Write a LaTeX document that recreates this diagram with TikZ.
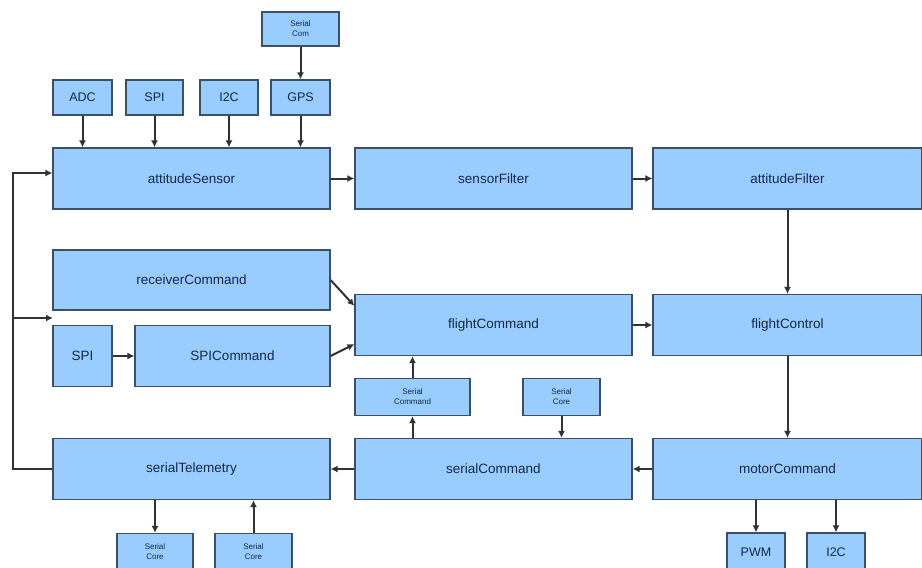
\documentclass[tikz,border=0pt]{standalone}
\usepackage{fontspec}
\setmainfont{Liberation Sans}
\usetikzlibrary{arrows.meta}
\definecolor{boxfill}{RGB}{153,204,255}
\definecolor{boxline}{RGB}{60,80,100}
\definecolor{labeltext}{RGB}{20,40,70}
\definecolor{wire}{RGB}{50,50,50}

\begin{document}
\begin{tikzpicture}[x=1pt,y=-1pt,
	every node/.style={draw=boxline,line width=1.2pt,fill=boxfill,text=labeltext,align=center,inner sep=0pt},
	bigbox/.style={minimum height=61pt,font=\fontsize{13.5}{15}\selectfont},
	portbox/.style={minimum height=35pt,font=\fontsize{12.5}{14}\selectfont},
	tinybox/.style={minimum height=37pt,font=\fontsize{8}{10}\selectfont},
	link/.style={draw=wire,line width=2pt,-{Latex[length=7pt,width=7pt]}}]
		\useasboundingbox (0,0) rectangle (922,568);

		% sensor row
		\path (191.5,178.5) node[bigbox,minimum width=277pt] (atts) {attitudeSensor}
		(493.5,178.5) node[bigbox,minimum width=277pt] (sfil) {sensorFilter}
		(787.5,178.5) node[bigbox,minimum width=269pt] (afil) {attitudeFilter}
		(82.5,97.5) node[portbox,minimum width=59pt] (adc) {ADC}
		(154.5,97.5) node[portbox,minimum width=57pt] (spia) {SPI}
		(229,97.5) node[portbox,minimum width=58pt] (i2ca) {I2C}
		(300.5,97.5) node[portbox,minimum width=59pt] (gps) {GPS}
		(300.5,29) node[tinybox,minimum width=77pt,minimum height=34pt] (scom) {Serial\\Com};

		% command row
		\path (191.5,280) node[bigbox,minimum width=277pt,minimum height=60pt] (rcv) {receiverCommand}
		(82.5,356) node[bigbox,minimum width=59pt] (spib) {SPI}
		(232.5,356) node[bigbox,minimum width=195pt] (spic) {SPICommand}
		(493.5,325) node[bigbox,minimum width=277pt] (fcmd) {flightCommand}
		(787.5,325) node[bigbox,minimum width=269pt] (fctl) {flightControl}
		(412.5,397) node[tinybox,minimum width=115pt] (sercmd) {Serial\\Command}
		(561.5,397) node[tinybox,minimum width=77pt] (score) {Serial\\Core};

		% output row
		\path (191.5,469) node[bigbox,minimum width=277pt] (stel) {serialTelemetry}
		(493.5,469) node[bigbox,minimum width=277pt] (scmd) {serialCommand}
		(787.5,469) node[bigbox,minimum width=269pt] (mcmd) {motorCommand}
		(155,552) node[tinybox,minimum width=76pt] (scoreout) {Serial\\Core}
		(253.5,552) node[tinybox,minimum width=77pt] (scorein) {Serial\\Core}
		(756,552) node[portbox,minimum width=58pt,minimum height=38pt] (pwm) {PWM}
		(836,552) node[portbox,minimum width=58pt,minimum height=38pt] (i2cb) {I2C};

		\coordinate (loopin) at (53,318);

		\draw[link] (adc) -- (adc |- atts.north);
		\draw[link] (spia) -- (spia |- atts.north);
		\draw[link] (i2ca) -- (i2ca |- atts.north);
		\draw[link] (gps) -- (gps |- atts.north);
		\draw[link] (scom) -- (gps);
		\draw[link] (atts) -- (sfil);
		\draw[link] (sfil) -- (afil);
		\draw[link] (afil) -- (fctl);
		\draw[link] (rcv.east) -- ([yshift=-12pt]fcmd.north west);
		\draw[link] (spic.east) -- ([yshift=12pt]fcmd.south west);
		\draw[link] (spib) -- (spic);
		\draw[link] (fcmd) -- (fctl);
		\draw[link] (fctl) -- (mcmd);
		\draw[link] (mcmd) -- (scmd);
		\draw[link] (scmd) -- (stel);
		\draw[link] (sercmd.north) -- (sercmd.north |- fcmd.south);
		\draw[link] (sercmd.south |- scmd.north) -- (sercmd.south);
		\draw[link] (score) -- (score |- scmd.north);
		\draw[link] (stel.south -| scoreout) -- (scoreout);
		\draw[link] (scorein) -- (scorein |- stel.south);
		\draw[link] (mcmd.south -| pwm) -- (pwm);
		\draw[link] (mcmd.south -| i2cb) -- (i2cb);
		\draw[link] (stel.west) -| (13,173) -- (atts.west |- 0,173);
		\draw[link] (13,318) -- (loopin);
	\end{tikzpicture}
\end{document}
